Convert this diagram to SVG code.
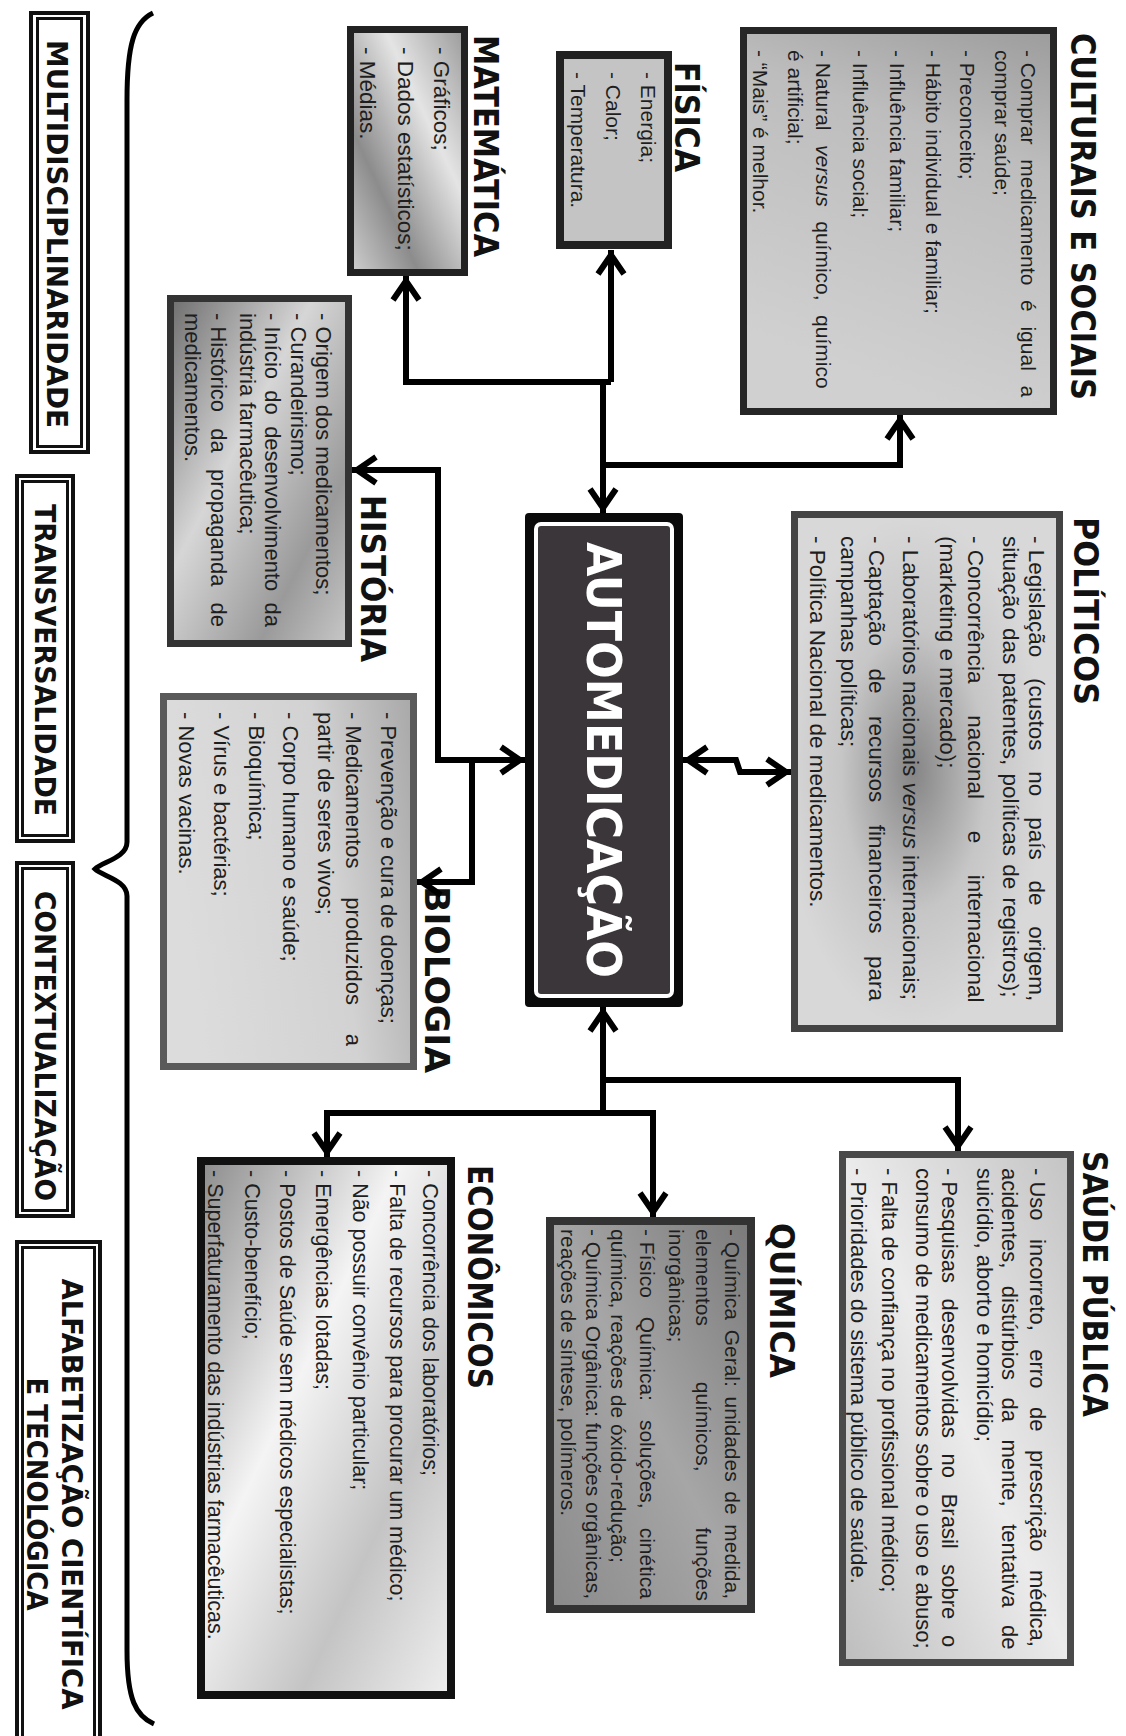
<svg xmlns="http://www.w3.org/2000/svg" width="1126" height="1736" viewBox="0 0 1126 1736">
<style>
.ttl{font-family:"Liberation Sans Narrow","DejaVu Sans Condensed","Liberation Sans",sans-serif;font-weight:700;font-size:34px;fill:#111}
.lab{font-family:"Liberation Sans Narrow","DejaVu Sans Condensed","Liberation Sans",sans-serif;font-weight:700;font-size:29px;fill:#111}
.tx{font-family:"Liberation Sans",Arial,sans-serif;font-size:21px;fill:#1e1e1e}
.conn{fill:none;stroke:#000;stroke-width:6;stroke-linejoin:miter}
.dbl1{fill:#fff;stroke:#111;stroke-width:4}
.dbl2{fill:none;stroke:#111;stroke-width:3}
.it{font-style:italic}
.d{word-spacing:0}
</style>
<defs>
<marker id="arr" viewBox="0 0 32 32" refX="29" refY="16" markerWidth="32" markerHeight="32" markerUnits="userSpaceOnUse" orient="auto-start-reverse" overflow="visible">
<path d="M5,3 L24,16 L5,29" fill="none" stroke="#000" stroke-width="6"/>
</marker>
<linearGradient id="gCult" x1="0" y1="0" x2="1" y2="0.3"><stop offset="0" stop-color="#9c9c9c"/><stop offset="0.35" stop-color="#bdbdbd"/><stop offset="1" stop-color="#d0d0d0"/></linearGradient>
<linearGradient id="gMat" x1="0" y1="0" x2="1" y2="1"><stop offset="0" stop-color="#9a9a9a"/><stop offset="0.35" stop-color="#e4e4e4"/><stop offset="0.7" stop-color="#8c8c8c"/><stop offset="1" stop-color="#d0d0d0"/></linearGradient>
<linearGradient id="gHist" x1="0" y1="1" x2="1" y2="0"><stop offset="0" stop-color="#6e6e6e"/><stop offset="0.4" stop-color="#d6d6d6"/><stop offset="0.75" stop-color="#9a9a9a"/><stop offset="1" stop-color="#c8c8c8"/></linearGradient>
<linearGradient id="gBio" x1="0" y1="0" x2="0.2" y2="1"><stop offset="0" stop-color="#a8a8a8"/><stop offset="0.4" stop-color="#d2d2d2"/><stop offset="1" stop-color="#dcdcdc"/></linearGradient>
<radialGradient id="gPol" cx="0.5" cy="0.55" r="0.5"><stop offset="0" stop-color="#858585"/><stop offset="0.55" stop-color="#c6c6c6"/><stop offset="1" stop-color="#d8d8d8"/></radialGradient>
<linearGradient id="gSau" x1="0" y1="0" x2="1" y2="1"><stop offset="0" stop-color="#c4c4c4"/><stop offset="0.5" stop-color="#ebebeb"/><stop offset="1" stop-color="#bdbdbd"/></linearGradient>
<linearGradient id="gQui" x1="0" y1="0" x2="1" y2="1"><stop offset="0" stop-color="#7a7a7a"/><stop offset="0.5" stop-color="#a6a6a6"/><stop offset="1" stop-color="#8a8a8a"/></linearGradient>
<linearGradient id="gEco" x1="0" y1="1" x2="1" y2="0"><stop offset="0" stop-color="#8c8c8c"/><stop offset="0.4" stop-color="#f4f4f4"/><stop offset="0.7" stop-color="#c4c4c4"/><stop offset="1" stop-color="#efefef"/></linearGradient>
</defs>
<rect width="1126" height="1736" fill="#fff"/>
<g transform="translate(1126,0) rotate(90)">
<g id="label-multidisciplinaridade">
<rect class="dbl1" x="13" y="1038" width="439" height="57"/>
<rect class="dbl2" x="18.5" y="1044.5" width="428" height="44"/>
<text class="lab" x="40" y="1079" textLength="388" lengthAdjust="spacingAndGlyphs">MULTIDISCIPLINARIDADE</text>
</g>
<g id="label-transversalidade">
<rect class="dbl1" x="476" y="1053" width="365" height="56"/>
<rect class="dbl2" x="481.5" y="1058.5" width="354" height="45"/>
<text class="lab" x="504" y="1091.5" textLength="312" lengthAdjust="spacingAndGlyphs">TRANSVERSALIDADE</text>
</g>
<g id="label-contextualizacao">
<rect class="dbl1" x="863" y="1053" width="353" height="56"/>
<rect class="dbl2" x="868.5" y="1058.5" width="342" height="45"/>
<text class="lab" x="891" y="1091.5" textLength="310" lengthAdjust="spacingAndGlyphs">CONTEXTUALIZAÇÃO</text>
</g>
<g id="label-alfabetizacao">
<rect class="dbl1" x="1242" y="1026" width="520" height="83"/>
<rect class="dbl2" x="1247.5" y="1031.5" width="510" height="72"/>
<text class="lab" x="1494" y="1064.5" text-anchor="middle" textLength="431" lengthAdjust="spacingAndGlyphs">ALFABETIZAÇÃO CIENTÍFICA</text>
<text class="lab" x="1494" y="1099.5" text-anchor="middle" textLength="233" lengthAdjust="spacingAndGlyphs">E TECNOLÓGICA</text>
</g>
<g id="brace">
<path d="M13,973 C22,992 45,999 100,999 L842,999 C858,999 862,1024 869,1031 C876,1024 880,999 896,999 L1650,999 C1700,999 1716,990 1724,972" fill="none" stroke="#000" stroke-width="5"/>
</g>
<g id="node-automedicacao">
<rect x="513" y="443" width="494" height="158" rx="4" fill="#0a0a0a"/>
<rect x="524" y="454" width="472" height="136" rx="5" fill="#3b3639" stroke="#fff" stroke-width="4"/>
<text x="760" y="539" text-anchor="middle" textLength="436" lengthAdjust="spacingAndGlyphs" style="font-family:'Liberation Sans Narrow','DejaVu Sans Condensed','Liberation Sans',sans-serif;font-weight:700;font-size:48px;fill:#fff">AUTOMEDICAÇÃO</text>
</g>
<g id="node-culturais">
<rect x="30.5" y="72.5" width="381" height="310" fill="url(#gCult)" stroke="#262626" stroke-width="7"/>
<text class="ttl" x="33" y="55" textLength="367" lengthAdjust="spacingAndGlyphs">CULTURAIS E SOCIAIS</text>
<text class="tx" x="50" y="105" style="word-spacing:8.9px"><tspan class="d">- </tspan>Comprar medicamento é igual a</text>
<text class="tx" x="50" y="131">comprar saúde;</text>
<text class="tx" x="50" y="166">- Preconceito;</text>
<text class="tx" x="50" y="200">- Hábito individual e familiar;</text>
<text class="tx" x="50" y="236">- Influência familiar;</text>
<text class="tx" x="50" y="273">- Influência social;</text>
<text class="tx" x="50" y="310" style="word-spacing:8.6px"><tspan class="d">- </tspan>Natural <tspan class="it">versus</tspan> químico, químico</text>
<text class="tx" x="50" y="338">é artificial;</text>
<text class="tx" x="50" y="373">- “Mais” é melhor.</text>
</g>
<g id="node-fisica">
<rect x="55" y="458" width="190" height="108" fill="#c4c4c4" stroke="#222" stroke-width="8"/>
<text class="ttl" x="62" y="451" textLength="110" lengthAdjust="spacingAndGlyphs">FÍSICA</text>
<text class="tx" x="72" y="485">- Energia;</text>
<text class="tx" x="72" y="520">- Calor;</text>
<text class="tx" x="72" y="555">- Temperatura.</text>
</g>
<g id="node-matematica">
<rect x="29.5" y="661.5" width="243" height="114" fill="url(#gMat)" stroke="#222" stroke-width="7"/>
<text class="ttl" x="35" y="652" textLength="222" lengthAdjust="spacingAndGlyphs">MATEMÁTICA</text>
<text class="tx" x="47" y="692" style="font-size:22.5px">- Gráficos;</text>
<text class="tx" x="47" y="728" style="font-size:22.5px">- Dados estatísticos;</text>
<text class="tx" x="47" y="766" style="font-size:22.5px">- Médias.</text>
</g>
<g id="node-historia">
<rect x="298.5" y="777.5" width="345" height="178" fill="url(#gHist)" stroke="#333" stroke-width="7"/>
<text class="ttl" x="495" y="765" textLength="167" lengthAdjust="spacingAndGlyphs">HISTÓRIA</text>
<text class="tx" x="313" y="810" style="font-size:22px">- Origem dos medicamentos;</text>
<text class="tx" x="313" y="835" style="font-size:22px">- Curandeirismo;</text>
<text class="tx" x="313" y="861" style="font-size:22px;word-spacing:5.2px"><tspan class="d">- </tspan>Início do desenvolvimento da</text>
<text class="tx" x="313" y="886" style="font-size:22px">indústria farmacêutica;</text>
<text class="tx" x="313" y="915" style="font-size:22px;word-spacing:10.1px"><tspan class="d">- </tspan>Histórico da propaganda de</text>
<text class="tx" x="313" y="941" style="font-size:22px">medicamentos.</text>
</g>
<g id="node-biologia">
<rect x="696.5" y="712.5" width="370" height="250" fill="url(#gBio)" stroke="#5a5a5a" stroke-width="7"/>
<text class="ttl" x="886" y="701" textLength="187" lengthAdjust="spacingAndGlyphs">BIOLOGIA</text>
<text class="tx" x="712" y="745" style="font-size:22px">- Prevenção e cura de doenças;</text>
<text class="tx" x="712" y="780" style="font-size:22px;word-spacing:22.7px"><tspan class="d">- </tspan>Medicamentos produzidos a</text>
<text class="tx" x="712" y="808" style="font-size:22px">partir de seres vivos;</text>
<text class="tx" x="712" y="843" style="font-size:22px">- Corpo humano e saúde;</text>
<text class="tx" x="712" y="877" style="font-size:22px">- Bioquímica;</text>
<text class="tx" x="712" y="912" style="font-size:22px">- Vírus e bactérias;</text>
<text class="tx" x="712" y="947" style="font-size:22px">- Novas vacinas.</text>
</g>
<g id="node-politicos">
<rect x="514.5" y="66.5" width="514" height="265" fill="url(#gPol)" stroke="#444" stroke-width="7"/>
<text class="ttl" x="517" y="52" textLength="188" lengthAdjust="spacingAndGlyphs">POLÍTICOS</text>
<text class="tx" x="536" y="97" style="font-size:22.5px;word-spacing:14.5px"><tspan class="d">- </tspan>Legislação (custos no país de origem,</text>
<text class="tx" x="536" y="123" style="font-size:22.5px;word-spacing:2px">situação das patentes, políticas de registros);</text>
<text class="tx" x="536" y="158" style="font-size:22.5px;word-spacing:25.4px"><tspan class="d">- </tspan>Concorrência nacional e internacional</text>
<text class="tx" x="536" y="186" style="font-size:22.5px">(marketing e mercado);</text>
<text class="tx" x="536" y="223" style="font-size:22.5px">- Laboratórios nacionais <tspan class="it">versus</tspan> internacionais;</text>
<text class="tx" x="536" y="257" style="font-size:22.5px;word-spacing:16.2px"><tspan class="d">- </tspan>Captação de recursos financeiros para</text>
<text class="tx" x="536" y="285" style="font-size:22.5px">campanhas políticas;</text>
<text class="tx" x="536" y="316" style="font-size:22.5px">- Política Nacional de medicamentos.</text>
</g>
<g id="node-saude-publica">
<rect x="1154.5" y="55.5" width="508" height="228" fill="url(#gSau)" stroke="#4a4a4a" stroke-width="7"/>
<text class="ttl" x="1151" y="43" textLength="266" lengthAdjust="spacingAndGlyphs">SAÚDE PÚBLICA</text>
<text class="tx" x="1168" y="96" style="font-size:22px;word-spacing:12.4px"><tspan class="d">- </tspan>Uso incorreto, erro de prescrição médica,</text>
<text class="tx" x="1168" y="124" style="font-size:22px;word-spacing:11.4px">acidentes, distúrbios da mente, tentativa de</text>
<text class="tx" x="1168" y="149" style="font-size:22px">suicídio, aborto e homicídio;</text>
<text class="tx" x="1168" y="184" style="font-size:22px;word-spacing:9.5px"><tspan class="d">- </tspan>Pesquisas desenvolvidas no Brasil sobre o</text>
<text class="tx" x="1168" y="210" style="font-size:22px">consumo de medicamentos sobre o uso e abuso;</text>
<text class="tx" x="1168" y="244" style="font-size:22px">- Falta de confiança no profissional médico;</text>
<text class="tx" x="1168" y="275" style="font-size:22px">- Prioridades do sistema público de saúde.</text>
</g>
<g id="node-quimica">
<rect x="1221" y="375" width="388" height="201" fill="url(#gQui)" stroke="#333" stroke-width="8"/>
<text class="ttl" x="1223" y="356" textLength="155" lengthAdjust="spacingAndGlyphs">QUÍMICA</text>
<text class="tx" x="1229" y="401" style="word-spacing:3.8px"><tspan class="d">- </tspan>Química Geral: unidades de medida,</text>
<text class="tx" x="1229" y="430" style="word-spacing:50px">elementos químicos, funções</text>
<text class="tx" x="1229" y="457">inorgânicas;</text>
<text class="tx" x="1229" y="486" style="word-spacing:13.2px"><tspan class="d">- </tspan>Físico Química: soluções, cinética</text>
<text class="tx" x="1229" y="515">química, reações de óxido-redução;</text>
<text class="tx" x="1229" y="540">- Química Orgânica: funções orgânicas,</text>
<text class="tx" x="1229" y="565">reações de síntese, polímeros.</text>
</g>
<g id="node-economicos">
<rect x="1161" y="675" width="534" height="250" fill="url(#gEco)" stroke="#111" stroke-width="8"/>
<text class="ttl" x="1165" y="658" textLength="224" lengthAdjust="spacingAndGlyphs">ECONÔMICOS</text>
<text class="tx" x="1170" y="703" style="font-size:21.5px">- Concorrência dos laboratórios;</text>
<text class="tx" x="1170" y="736" style="font-size:21.5px">- Falta de recursos para procurar um médico;</text>
<text class="tx" x="1170" y="773" style="font-size:21.5px">- Não possuir convênio particular;</text>
<text class="tx" x="1170" y="810" style="font-size:21.5px">- Emergências lotadas;</text>
<text class="tx" x="1170" y="846" style="font-size:21.5px">- Postos de Saúde sem médicos especialistas;</text>
<text class="tx" x="1170" y="881" style="font-size:21.5px">- Custo-benefício;</text>
<text class="tx" x="1170" y="918" style="font-size:21.5px">- Superfaturamento das indústrias farmacêuticas.</text>
</g>
<g id="connectors">
<path class="conn" d="M382,523 L513,523" marker-end="url(#arr)"/>
<path class="conn" d="M382,515 L382,720 L276,720" marker-end="url(#arr)"/>
<path class="conn" d="M382,515 L250,515" marker-end="url(#arr)"/>
<path class="conn" d="M465,523 L465,226 L415,226" marker-end="url(#arr)"/>
<path class="conn" d="M470,774 L470,688 L760,688 L760,601" marker-start="url(#arr)" marker-end="url(#arr)"/>
<path class="conn" d="M760,654 L882,654 L882,709" marker-end="url(#arr)"/>
<path class="conn" d="M760,443 L760,390 L772,386 L772,335" marker-start="url(#arr)" marker-end="url(#arr)"/>
<path class="conn" d="M1113,523 L1007,523" marker-end="url(#arr)"/>
<path class="conn" d="M1080,523 L1080,168 L1151,168" marker-end="url(#arr)"/>
<path class="conn" d="M1113,473 L1113,799 L1157,799" marker-end="url(#arr)"/>
<path class="conn" d="M1113,523 L1113,473 L1217,473" marker-end="url(#arr)"/>
</g>
</g>
</svg>
